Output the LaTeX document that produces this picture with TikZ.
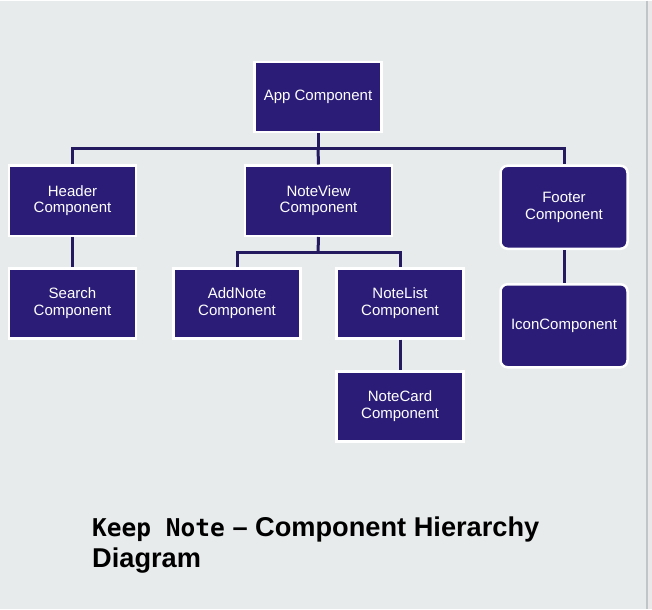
\documentclass[tikz,border=0pt]{standalone}
\usepackage{fontspec}
\setmainfont{Liberation Sans}
\newfontfamily\monofont{DejaVu Sans Mono}
\definecolor{bg}{HTML}{E8EBEC}
\definecolor{boxfill}{HTML}{2B1D77}
\definecolor{linkc}{HTML}{231A60}
\definecolor{edge}{HTML}{C0C5C7}
\definecolor{edgebg}{HTML}{EAE8E8}
\begin{document}
\begin{tikzpicture}[x=1pt,y=-1pt,
  comp/.style={draw=white, line width=2.5pt, fill=boxfill, text=white,
    minimum width=127pt, minimum height=70pt, align=center,
    font=\fontsize{15}{16.5}\selectfont, inner sep=2pt},
  rcomp/.style={comp, rounded corners=7pt, minimum height=83pt},
  link/.style={draw=linkc, line width=3pt}]
\fill[bg] (0,0) rectangle (652,608);
\fill[edgebg] (647,0) rectangle (652,608);
\draw[edge, line width=1.5pt] (647,0) -- (647,608);
\useasboundingbox (0,0) rectangle (652,608);

\node[comp] (app) at (318,96.5) {App Component};
\node[comp] (header) at (72.5,200) {Header\\Component};
\node[comp, minimum width=147pt] (noteview) at (318.5,200) {NoteView\\Component};
\node[rcomp] (footer) at (564,206.5) {Footer\\Component};
\node[comp] (search) at (72.5,302.5) {Search\\Component};
\node[comp] (addnote) at (237,302.5) {AddNote\\Component};
\node[comp] (notelist) at (400,302.5) {NoteList\\Component};
\node[comp] (notecard) at (400,405.5) {NoteCard\\Component};
\node[rcomp] (icon) at (564,325) {IconComponent};

\coordinate (bar1) at (318,148);
\coordinate (bar2) at (318,252);
\draw[link] (app.south) -- (bar1);
\draw[link] (header.north) |- (bar1) -| (footer.north);
\draw[link] (bar1) -- (noteview.north);
\draw[link] (header.south) -- (search.north);
\draw[link] (noteview.south) -- (bar2);
\draw[link] (addnote.north) |- (bar2) -| (notelist.north);
\draw[link] (notelist.south) -- (notecard.north);
\draw[link] (footer.south) -- (icon.north);

\node[anchor=base west, align=left, inner sep=0pt, font=\fontsize{27.2}{31}\selectfont\bfseries] (title) at (92,567)
  {{\fontsize{24.5}{31}\selectfont\monofont Keep Note} -- Component Hierarchy\\Diagram};
\end{tikzpicture}
\end{document}
